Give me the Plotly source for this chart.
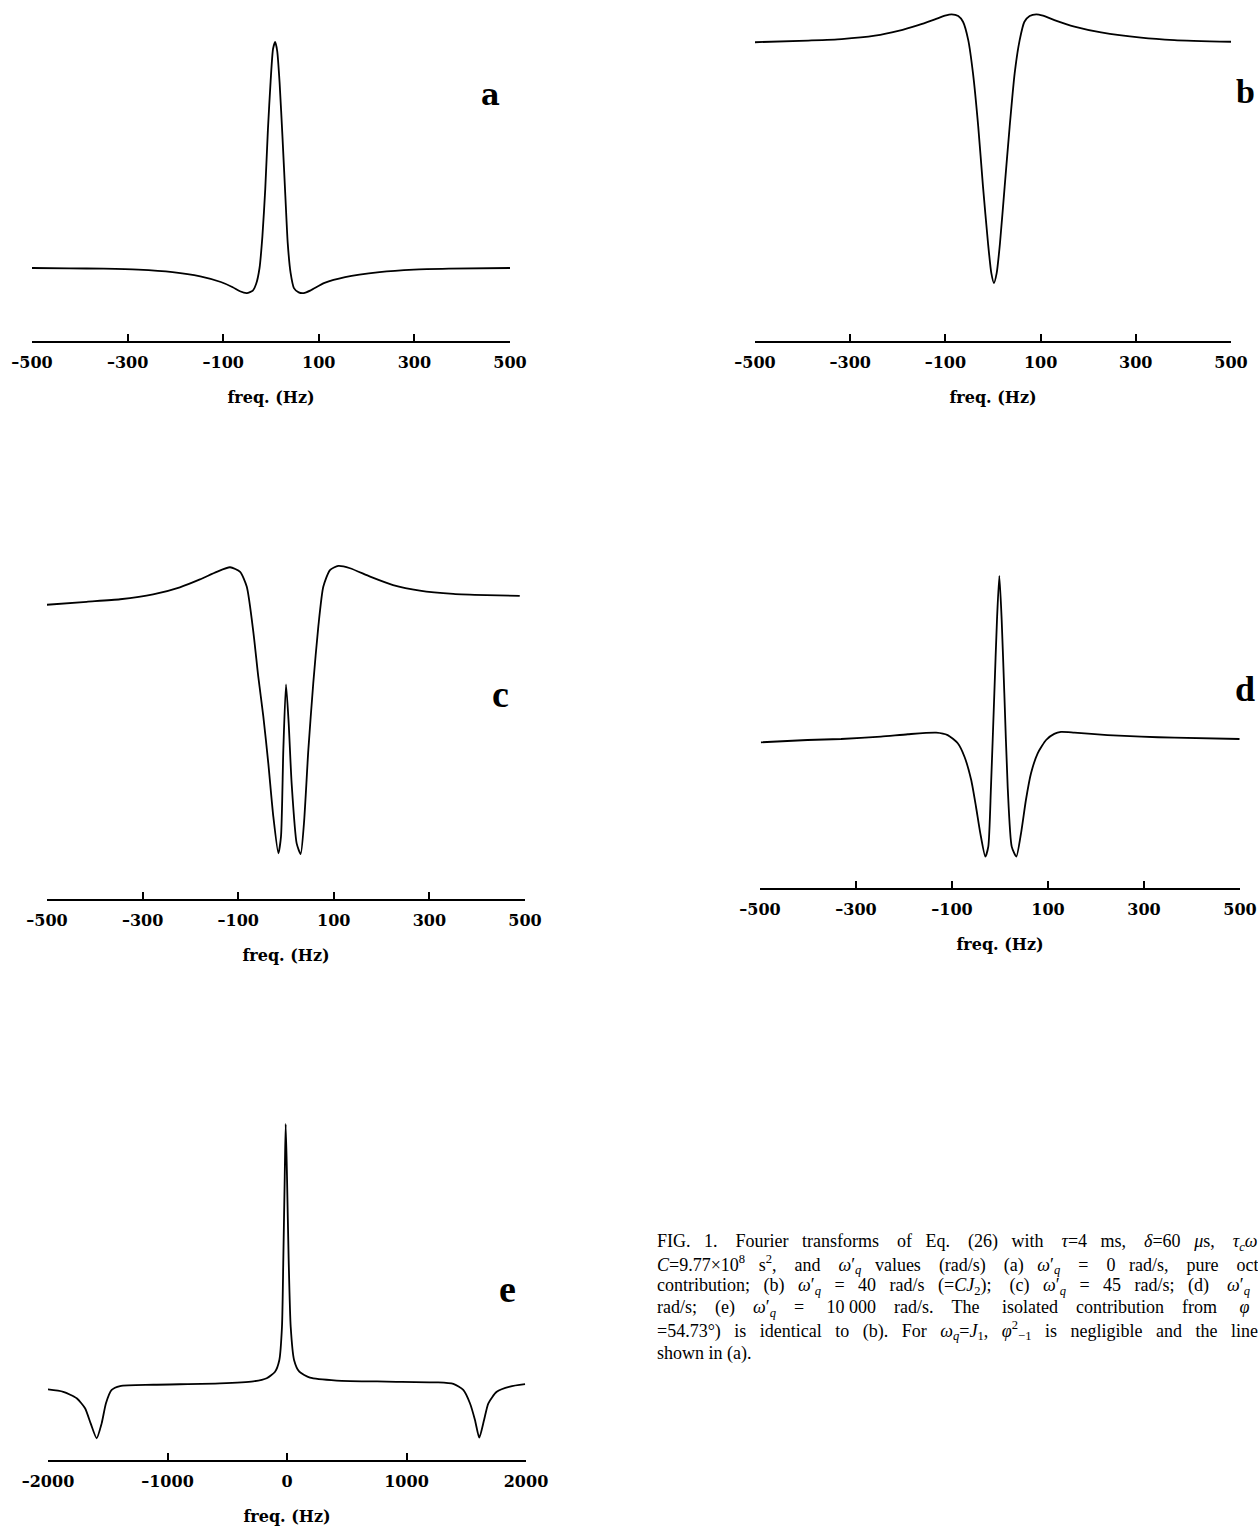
import plotly.graph_objects as go

W, H = 1258, 1529

# ---------------- data ----------------
# panel a: omega'_q = 0 rad/s
freq_a = [-500, -422, -350, -278, -206, -148, -105, -80, -65, -50.5, -38, -31, -24, -18, -12,
          -6.5, -0.7, 4.3, 8.7, 13, 18, 24, 30, 35, 41, 48, 58, 68.5, 83, 112, 155, 227, 299, 372, 500]
int_a = [0.0, -0.0015, -0.003, -0.007, -0.018, -0.037, -0.062, -0.085, -0.103, -0.111, -0.100,
         -0.070, 0.0, 0.14, 0.35, 0.61, 0.83, 0.97, 1.0, 0.96, 0.82, 0.58, 0.32, 0.11, -0.022,
         -0.089, -0.108, -0.111, -0.099, -0.066, -0.040, -0.018, -0.007, -0.003, 0.0]

# panel b: omega'_q = 40 rad/s
freq_b = [-500, -388, -318, -248, -199, -157, -122, -101, -87, -73, -63, -52, -42, -31, -21,
          -10.5, -3.5, 2, 7.7, 14.7, 24.5, 35, 45.5, 56, 66, 77, 91, 105, 129, 171, 227, 311, 381, 500]
int_b = [-0.001, 0.006, 0.012, 0.026, 0.046, 0.070, 0.094, 0.109, 0.115, 0.108, 0.084, 0.008,
         -0.130, -0.351, -0.600, -0.834, -0.959, -1.0, -0.959, -0.834, -0.600, -0.351, -0.130,
         0.008, 0.084, 0.108, 0.115, 0.109, 0.091, 0.064, 0.040, 0.018, 0.008, 0.001]

# panel c: omega'_q = 45 rad/s
freq_c = [-510, -417, -347, -278, -222, -180, -145, -117, -96, -82, -68, -58, -47.4, -37, -26.5,
          -16, -10.5, -5.6, 0, 5.6, 11.8, 22.3, 30.7, 37.6, 46.7, 57, 67.6, 78, 92, 109.5, 134,
          176, 224, 280, 350, 419, 489]
int_c = [-0.020, -0.007, 0.003, 0.022, 0.050, 0.081, 0.111, 0.129, 0.111, 0.052, -0.131, -0.302,
         -0.459, -0.643, -0.853, -0.997, -0.932, -0.591, -0.332, -0.485, -0.722, -0.958, -1.0,
         -0.879, -0.591, -0.328, -0.105, 0.052, 0.118, 0.134, 0.125, 0.092, 0.059, 0.037, 0.024,
         0.019, 0.016]

# panel d
freq_d = [-498, -401, -331, -248, -192, -133, -109, -88, -74, -60, -50, -41, -30.6, -24.4, -18.8,
          -11.8, -6.3, -1.4, 3.5, 9, 16, 24.4, 34, 43.8, 54, 64.6, 78.5, 96, 113, 127, 155, 224,
          294, 363, 499]
int_d = [-0.014, 0.0, 0.006, 0.020, 0.035, 0.045, 0.030, -0.020, -0.102, -0.244, -0.407, -0.569,
         -0.711, -0.650, -0.285, 0.285, 0.732, 1.0, 0.732, 0.285, -0.285, -0.650, -0.711, -0.569,
         -0.366, -0.203, -0.081, 0.0, 0.037, 0.049, 0.045, 0.030, 0.020, 0.014, 0.006]

# panel e: omega'_q = 10 000 rad/s
freq_e = [-2015, -1872, -1760, -1690, -1643, -1593, -1551, -1515, -1467, -1397, -1119, -561,
          -282, -170, -100, -64, -42, -31, -19, -11, 0, 14, 31, 59, 103, 192, 416, 834, 1253,
          1392, 1475, 1531, 1573, 1609, 1649, 1685, 1755, 1866, 1992]
int_e = [-0.016, -0.026, -0.051, -0.089, -0.147, -0.204, -0.147, -0.070, -0.019, -0.004, 0.001,
         0.006, 0.014, 0.026, 0.051, 0.096, 0.223, 0.479, 0.798, 1.0, 0.798, 0.479, 0.223, 0.096,
         0.051, 0.028, 0.017, 0.013, 0.010, 0.004, -0.019, -0.070, -0.134, -0.202, -0.134,
         -0.070, -0.026, -0.006, 0.003]

tick_vals_hz = [-500, -300, -100, 100, 300, 500]
tick_text_hz = ["–500", "–300", "–100", "100", "300", "500"]
tick_vals_e = [-2000, -1000, 0, 1000, 2000]
tick_text_e = ["–2000", "–1000", "0", "1000", "2000"]
x_title = "freq. (Hz)"
panel_labels = ["a", "b", "c", "d", "e"]

# caption, one list of words per printed line
caption_words = [
    ["FIG.", "1.", "Fourier", "transforms", "of", "Eq.", "(26)", "with", "<i>τ</i>=4", "ms,",
     "<i>δ</i>=60", "<i>μ</i>s,", "<i>τ<sub>c</sub>ω</i>"],
    ["<i>C</i>=9.77×10<sup>8</sup>", "s<sup>2</sup>,", "and", "<i>ω</i>′<sub><i>q</i></sub>",
     "values", "(rad/s)", "(a)", "<i>ω</i>′<sub><i>q</i></sub>", "=", "0", "rad/s,", "pure", "oct"],
    ["contribution;", "(b)", "<i>ω</i>′<sub><i>q</i></sub>", "=", "40", "rad/s",
     "(=<i>CJ</i><sub>2</sub>);", "(c)", "<i>ω</i>′<sub><i>q</i></sub>", "=", "45", "rad/s;",
     "(d)", "<i>ω</i>′<sub><i>q</i></sub>"],
    ["rad/s;", "(e)", "<i>ω</i>′<sub><i>q</i></sub>", "=", "10 000", "rad/s.", "The", "isolated",
     "contribution", "from", "<i>φ</i>"],
    ["=54.73°)", "is", "identical", "to", "(b).", "For", "<i>ω<sub>q</sub></i>=<i>J</i><sub>1</sub>,",
     "<i>φ</i><sup>2</sup><sub>−1</sub>", "is", "negligible", "and", "the", "line"],
    ["shown", "in", "(a)."],
]
# extra justification space (number of no-break spaces added over each line)
caption_extra_nbsp = [30, 32, 28, 33, 24, 0]

# ---------------- layout (pixel geometry of each panel) ----------------
panels = [
    dict(f=freq_a, v=int_a, x0=32, x1=510, axis=341, base=268, unit=226, top=28,
         rng=(-500, 500), tv=tick_vals_hz, tt=tick_text_hz,
         lab=(490, 95), labfont=dict(family="DejaVu Serif", size=29, weight="bold")),
    dict(f=freq_b, v=int_b, x0=755, x1=1231, axis=341, base=42, unit=241, top=5,
         rng=(-500, 500), tv=tick_vals_hz, tt=tick_text_hz,
         lab=(1245, 91), labfont=dict(family="Liberation Serif", size=34, weight="bold")),
    dict(f=freq_c, v=int_c, x0=47, x1=525, axis=899, base=600, unit=254, top=555,
         rng=(-500, 500), tv=tick_vals_hz, tt=tick_text_hz,
         lab=(500, 694), labfont=dict(family="Liberation Serif", size=38, weight="bold")),
    dict(f=freq_d, v=int_d, x0=760, x1=1240, axis=888, base=740, unit=164, top=565,
         rng=(-500, 500), tv=tick_vals_hz, tt=tick_text_hz,
         lab=(1245, 689), labfont=dict(family="Liberation Serif", size=36, weight="bold")),
    dict(f=freq_e, v=int_e, x0=48, x1=526, axis=1460, base=1385, unit=261, top=1115,
         rng=(-2000, 2000), tv=tick_vals_e, tt=tick_text_e,
         lab=(507, 1289), labfont=dict(family="Liberation Serif", size=38, weight="bold")),
]

fig = go.Figure()
annotations = []
lay = {}
for i, p in enumerate(panels, start=1):
    sx = "" if i == 1 else str(i)
    fig.add_trace(go.Scatter(
        x=p["f"], y=p["v"], mode="lines", xaxis="x" + sx, yaxis="y" + sx,
        line=dict(color="black", width=1.8, shape="spline", smoothing=0.6),
        showlegend=False, hoverinfo="skip"))
    lay["xaxis" + sx] = dict(
        domain=[p["x0"] / W, p["x1"] / W], anchor="y" + sx, range=list(p["rng"]),
        showline=True, linecolor="black", linewidth=1.6, mirror=False,
        ticks="inside", ticklen=7, tickwidth=1.6, tickcolor="black",
        tickvals=p["tv"], ticktext=p["tt"], ticklabelstandoff=6,
        tickfont=dict(family="DejaVu Serif", size=16, color="black", weight="bold"),
        showgrid=False, zeroline=False, automargin=False, fixedrange=True,
        title=dict(text=x_title, standoff=21,
                   font=dict(family="DejaVu Serif", size=16, color="black", weight="bold")))
    lay["yaxis" + sx] = dict(
        domain=[1 - p["axis"] / H, 1 - p["top"] / H], anchor="x" + sx,
        range=[(p["base"] - p["axis"]) / p["unit"], (p["base"] - p["top"]) / p["unit"]],
        visible=False, showgrid=False, zeroline=False, fixedrange=True)
    annotations.append(dict(
        text=panel_labels[i - 1], xref="paper", yref="paper",
        x=p["lab"][0] / W, y=1 - p["lab"][1] / H, xanchor="center", yanchor="middle",
        showarrow=False, font=dict(color="black", **p["labfont"])))


def justify(words, extra):
    """Spread `extra` no-break spaces over the gaps of a line (justified text)."""
    gaps = len(words) - 1
    out = words[0]
    for g in range(gaps):
        n = extra * (g + 1) // gaps - extra * g // gaps
        out += " " + "\u00a0" * n + words[g + 1]
    return out


cap_y0, cap_dy = 1242, 22.2
for k, (words, extra) in enumerate(zip(caption_words, caption_extra_nbsp)):
    annotations.append(dict(
        text=justify(words, extra), xref="paper", yref="paper",
        x=655 / W, y=1 - (cap_y0 + k * cap_dy) / H,
        xanchor="left", yanchor="middle", align="left", showarrow=False,
        font=dict(family="Liberation Serif", size=18, color="black")))

fig.update_layout(
    width=W, height=H, margin=dict(l=0, r=0, t=0, b=0),
    paper_bgcolor="white", plot_bgcolor="white",
    showlegend=False, annotations=annotations, **lay)

fig.write_html("out.html", config={"displayModeBar": False},
               post_script="document.body.style.margin='0';document.body.style.overflow='hidden';")
